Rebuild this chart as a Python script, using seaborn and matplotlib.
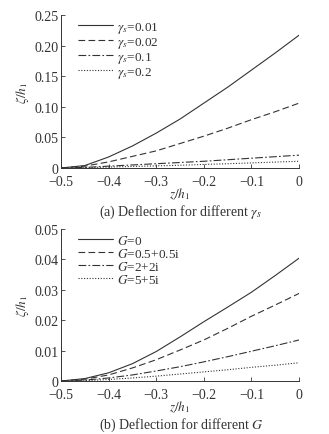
import numpy as np
import pandas as pd
import matplotlib
matplotlib.use("Agg")
import matplotlib.pyplot as plt
import seaborn as sns

# x positions (z/h1) shared by all curves
z = [-0.5, -0.45, -0.4, -0.35, -0.3, -0.25, -0.2, -0.15, -0.1, -0.05, 0.0]

# (a) deflection for different gamma_s
gamma_labels = [r"$\gamma_s$=0.01", r"$\gamma_s$=0.02", r"$\gamma_s$=0.1", r"$\gamma_s$=0.2"]
g001 = [0.0, 0.004, 0.018, 0.036, 0.057, 0.080, 0.106, 0.132, 0.160, 0.188, 0.217]
g002 = [0.0, 0.003, 0.010, 0.019, 0.028, 0.040, 0.052, 0.065, 0.079, 0.092, 0.106]
g01 = [0.0, 0.001, 0.003, 0.005, 0.007, 0.009, 0.011, 0.0135, 0.016, 0.0185, 0.021]
g02 = [0.0, 0.0005, 0.0015, 0.0025, 0.0035, 0.0045, 0.0058, 0.007, 0.0083, 0.0097, 0.011]

# (b) deflection for different G
G_labels = [r"$G$=0", r"$G$=0.5+0.5i", r"$G$=2+2i", r"$G$=5+5i"]
G0 = [0.0, 0.0008, 0.0027, 0.0057, 0.0097, 0.0145, 0.0195, 0.0243, 0.0292, 0.0347, 0.0404]
G05 = [0.0, 0.0006, 0.002, 0.0043, 0.007, 0.0102, 0.0135, 0.0173, 0.0213, 0.025, 0.0288]
G2 = [0.0, 0.0003, 0.001, 0.002, 0.0033, 0.0047, 0.0063, 0.008, 0.0098, 0.0116, 0.0135]
G5 = [0.0, 0.0001, 0.0005, 0.001, 0.0016, 0.0023, 0.003, 0.0037, 0.0045, 0.0052, 0.006]

xticks = [-0.5, -0.4, -0.3, -0.2, -0.1, 0.0]
xticklabels = ["\u22120.5", "\u22120.4", "\u22120.3", "\u22120.2", "\u22120.1", "0"]
yticks_a = [0, 0.05, 0.10, 0.15, 0.20, 0.25]
yticklabels_a = ["0", "0.05", "0.10", "0.15", "0.20", "0.25"]
yticks_b = [0, 0.01, 0.02, 0.03, 0.04, 0.05]
yticklabels_b = ["0", "0.01", "0.02", "0.03", "0.04", "0.05"]

styles = ["-", (0, (6, 3)), (0, (7, 2, 1.5, 2)), (0, (1, 1.5))]

sns.set_style("ticks")
plt.rcParams["font.family"] = ["Liberation Serif", "DejaVu Serif"]
plt.rcParams["mathtext.fontset"] = "stix"

ink = "#333333"
fig = plt.figure(figsize=(3.29, 4.35), dpi=100)
ax_a = fig.add_axes([0.1854, 0.6115, 0.7236, 0.3517])
ax_b = fig.add_axes([0.1854, 0.1218, 0.7236, 0.3495])


def draw(ax, series, labels, yticks, yticklabels, ylim):
    for vals, lab, ls in zip(series, labels, styles):
        df = pd.DataFrame({"z": z, "v": vals})
        sns.lineplot(data=df, x="z", y="v", ax=ax, color=ink, lw=0.8,
                     linestyle=ls, label=lab)
    ax.set_xlim(-0.5, 0)
    ax.set_ylim(*ylim)
    ax.set_xticks(xticks)
    ax.set_xticklabels(xticklabels)
    ax.set_yticks(yticks)
    ax.set_yticklabels(yticklabels)
    ax.tick_params(direction="in", length=3, width=0.6, colors=ink,
                   labelsize=10)
    ax.tick_params(axis="x", pad=5)
    ax.tick_params(axis="y", pad=2)
    for s in ["top", "right"]:
        ax.spines[s].set_visible(False)
    for s in ["left", "bottom"]:
        ax.spines[s].set_color(ink)
        ax.spines[s].set_linewidth(0.7)
    ax.set_xlabel(r"$z/h_1$", fontsize=9.5, color=ink, labelpad=-1.5)
    ax.set_ylabel(r"$\zeta/h_1$", fontsize=9.5, color=ink, labelpad=2)
    leg = ax.legend(loc="upper left", frameon=False, fontsize=9.5,
                    handlelength=2.6, handletextpad=0.3, labelspacing=0.0,
                    borderaxespad=0.2, bbox_to_anchor=(0.04, 1.02))
    for t in leg.get_texts():
        t.set_color(ink)


draw(ax_a, [g001, g002, g01, g02], gamma_labels, yticks_a, yticklabels_a, (0, 0.25))
draw(ax_b, [G0, G05, G2, G5], G_labels, yticks_b, yticklabels_b, (0, 0.05))

fig.text(0.55, 0.512, r"(a) Deflection for different $\gamma_s$", ha="center",
         va="center", fontsize=10, color=ink)
fig.text(0.55, 0.022, r"(b) Deflection for different $G$", ha="center",
         va="center", fontsize=10, color=ink)

fig.savefig("out.png", dpi=100)
